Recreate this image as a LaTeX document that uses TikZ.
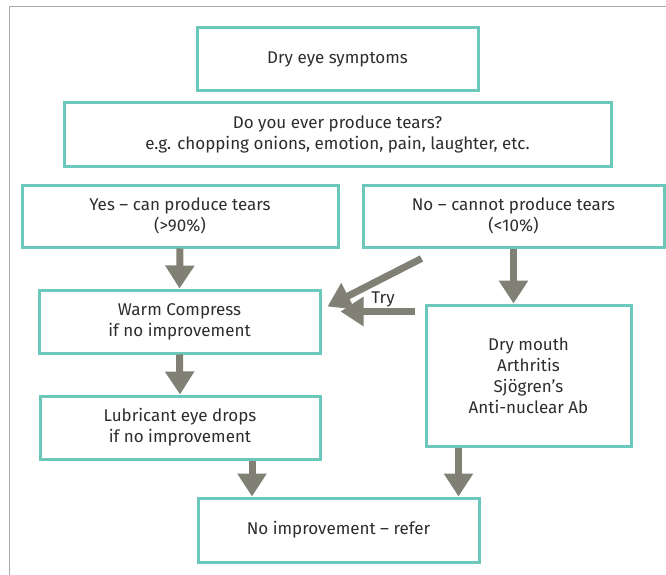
\documentclass[tikz,border=0pt]{standalone}
\usepackage{fontspec}
\setmainfont{Fira Sans}
\usetikzlibrary{arrows.meta}
\definecolor{boxteal}{RGB}{108,200,186}
\definecolor{arrowgray}{RGB}{128,128,117}
\definecolor{textgray}{RGB}{45,45,45}
\definecolor{framegray}{RGB}{170,170,170}
\tikzset{
  box/.style={draw=boxteal, line width=3pt, align=center, inner sep=2pt,
    text=textgray, font=\fontsize{17}{21}\selectfont},
  fat/.style={draw=arrowgray, line width=7pt,
    -{Triangle[length=23pt, width=28pt]}}
}
\begin{document}
\begin{tikzpicture}[x=1pt, y=-1pt]
  \useasboundingbox (0,0) rectangle (666,575);
  % frame
  \draw[framegray, line width=1pt] (9,575) -- (9,7) -- (666,7);
  % boxes
  \node[box, minimum width=281pt, minimum height=63pt] (dry) at (337.5,59) {Dry eye symptoms};
  \node[box, minimum width=547pt, minimum height=63pt] (tears) at (337.5,134.5)
    {Do you ever produce tears?\\e.g. chopping onions, emotion, pain, laughter, etc.};
  \node[box, minimum width=316pt, minimum height=62pt] (yes) at (180,216)
    {Yes -- can produce tears\\(>90\%)};
  \node[box, minimum width=301pt, minimum height=62pt] (no) at (513.5,216)
    {No -- cannot produce tears\\(<10\%)};
  \node[box, minimum width=281pt, minimum height=63pt] (warm) at (179.5,321.5)
    {Warm Compress\\if no improvement};
  \node[box, minimum width=205pt, minimum height=141pt] (mouth) at (528.5,375.5)
    {Dry mouth\\Arthritis\\Sjögren’s\\Anti-nuclear Ab};
  \node[box, minimum width=280pt, minimum height=63pt] (lube) at (180,427.5)
    {Lubricant eye drops\\if no improvement};
  \node[box, minimum width=281pt, minimum height=64pt] (refer) at (338.5,530)
    {No improvement -- refer};
  % arrows
  \draw[fat] (yes.south) -- (warm.north);
  \draw[fat] (warm.south) -- (lube.north);
  \draw[fat] ([xshift=72pt]lube.south) -- ([xshift=72pt]lube.south |- refer.north);
  \draw[fat] ([xshift=-70pt]mouth.south) -- ([xshift=-70pt]mouth.south |- refer.north);
  \draw[fat] (no.south) -- (no.south |- mouth.north);
  \draw[fat] ([shift={(60,10)}]no.south west) -- ([shift={(6,-15)}]warm.east);
  \coordinate (trystart) at ([shift={(-10,8)}]mouth.north west);
  \coordinate (tryend) at ([xshift=19pt]warm.east);
  \draw[fat] (trystart) -- (tryend |- trystart);
  \node[text=textgray, font=\fontsize{17}{21}\selectfont] (try) at (383,299) {Try};
\end{tikzpicture}
\end{document}
